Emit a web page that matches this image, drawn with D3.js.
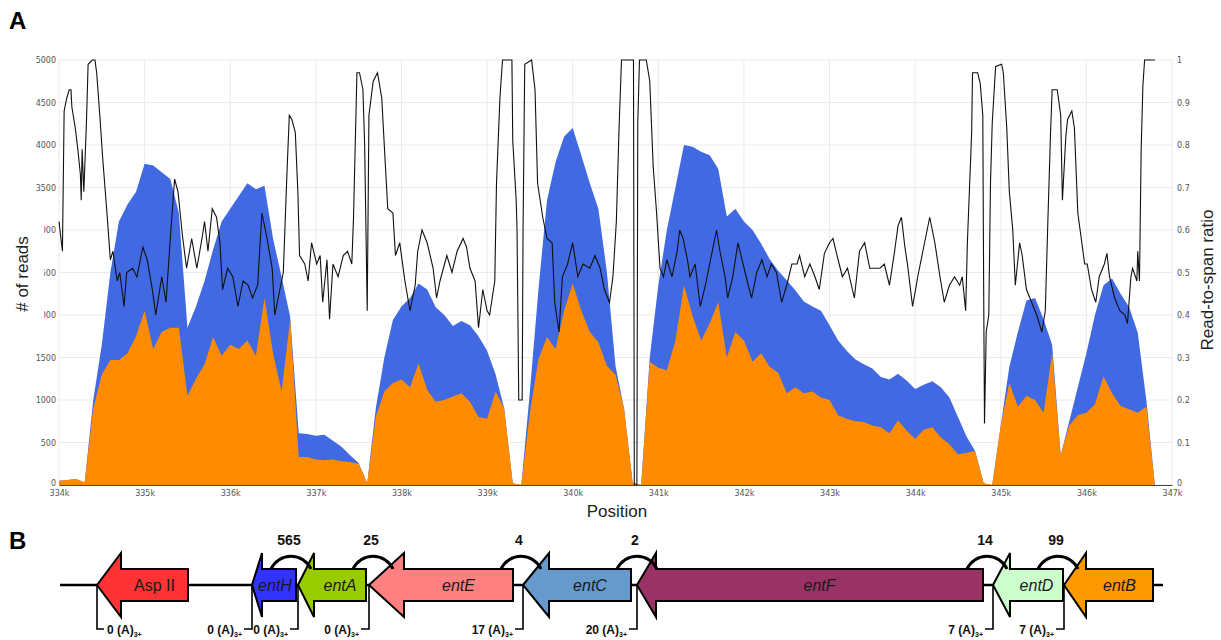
<!DOCTYPE html>
<html>
<head>
<meta charset="UTF-8">
<script src="https://cdn.jsdelivr.net/npm/d3@7"></script>
<style>
  body { margin: 0; background: #fff; font-family: "Liberation Sans", Arial, sans-serif; }
  .tick text { font-family: "DejaVu Sans", sans-serif; font-size: 8px; fill: #555; }
</style>
</head>
<body>
<svg width="1221" height="640"></svg>
<script>
// ---- panel A data: read coverage every 100 bp from 334k to 347k
const covStart = 334000, covStep = 100;
const totalReads = [50,60,70,30,1000,1650,2500,3100,3300,3450,
  3780,3760,3680,3600,3200,1850,2100,2400,2770,3100,
  3250,3400,3550,3480,3520,2900,2450,1980,610,600,
  580,590,520,450,350,260,20,900,1500,1940,
  2100,2200,2370,2300,2090,2000,1870,1930,1880,1750,
  1580,1300,900,20,0,1100,2300,3350,3800,4100,
  4200,3880,3550,3250,2500,1400,900,30,0,1500,
  2350,3000,3500,4000,3980,3920,3880,3720,3160,3250,
  3100,3000,2840,2660,2520,2410,2290,2160,2100,2050,
  1880,1700,1580,1480,1420,1370,1270,1240,1310,1230,
  1130,1180,1220,1150,1030,800,570,400,20,0,
  700,1390,1800,2170,2200,1950,1650,350,750,1150,
  1550,2000,2350,2430,2250,2090,1790,1000,0,0,0];
const spanReads = [50,60,70,30,900,1300,1470,1470,1550,1750,
  2050,1600,1800,1850,1850,1050,1250,1420,1740,1520,
  1650,1600,1700,1520,2200,1550,1100,1950,330,330,
  300,290,300,280,270,250,20,800,1100,1200,
  1240,1150,1430,1120,980,1000,1040,1080,980,800,
  780,1100,900,20,0,850,1480,1740,1600,2050,
  2370,2050,1800,1680,1400,1300,900,30,0,1450,
  1380,1350,1700,2350,1990,1700,1900,2150,1500,1800,
  1700,1450,1550,1390,1320,1080,1150,1080,1100,1030,
  1000,820,780,750,740,700,680,610,760,640,
  540,650,680,560,480,360,380,400,20,0,
  700,1200,920,1050,1000,850,1550,350,700,820,
  850,950,1280,1080,930,890,850,920,0,0,0];

// read-to-span ratio (right axis)
const ratioPos = [334000,334040,334060,334090,334120,334140,334150,334190,334220,334250,334260,334270,334290,334320,334340,334390,334420,334440,334480,334510,334560,334600,334630,334680,334710,334760,334790,334860,334910,334980,
  335030,335090,335130,335200,335250,335300,335350,335390,335440,335490,335550,335610,335670,335700,335740,335790,335840,335880,335910,335970,
  336030,336090,336150,336210,336260,336320,336370,336430,336490,336520,336580,336620,336660,336690,336720,336760,336790,336810,336870,336910,336950,
  337010,337050,337080,337130,337160,337200,337260,337320,337370,337420,337440,337480,337510,337550,337570,337600,337620,337670,337720,337770,337810,337840,337900,337930,337980,
  338040,338100,338160,338190,338240,338300,338370,338410,338450,338530,338590,338650,338720,338760,338800,338860,338900,338950,
  339000,339030,339090,339110,339150,339180,339290,339300,339340,339350,339370,339410,339420,339440,339520,339560,339590,339650,339700,339760,339790,339840,339880,339940,
  340000,340060,340120,340200,340260,340320,340370,340430,340470,340510,340540,340570,340710,340720,340750,340760,340780,340860,340900,340940,340980,
  341020,341060,341100,341160,341220,341250,341290,341340,341370,341430,341490,341550,341600,341680,341720,341780,341810,341870,341930,341990,
  342050,342090,342150,342210,342270,342320,342380,342440,342500,342560,342620,342650,342710,342770,342830,342880,342940,
  343000,343040,343100,343150,343210,343290,343350,343410,343470,343530,343590,343640,343700,343760,343800,343840,343880,343910,343970,
  344030,344090,344170,344230,344290,344340,344400,344460,344520,344550,344590,344610,344660,344670,344730,344760,344790,344800,344810,344830,344860,344880,344900,344940,
  345010,345030,345070,345100,345140,345170,345220,345250,345300,345360,345420,345480,345520,345550,345580,345600,345660,345700,345720,345760,345780,345830,345860,345900,345940,345980,
  346010,346060,346110,346150,346210,346240,346270,346330,346390,346450,346480,346520,346540,346590,346600,346620,346640,346660,346680,346800];
const ratioVal = [0.62,0.55,0.88,0.91,0.93,0.93,0.89,0.84,0.79,0.73,0.67,0.79,0.69,0.85,0.99,1,1,0.97,0.86,0.77,0.64,0.53,0.55,0.48,0.50,0.42,0.50,0.51,0.49,0.56,
  0.53,0.46,0.40,0.49,0.43,0.58,0.72,0.69,0.59,0.51,0.58,0.51,0.58,0.62,0.55,0.65,0.63,0.57,0.46,0.51,
  0.49,0.42,0.48,0.47,0.44,0.47,0.64,0.58,0.51,0.40,0.46,0.50,0.72,0.87,0.86,0.83,0.69,0.54,0.52,0.48,0.57,
  0.52,0.54,0.43,0.53,0.39,0.52,0.49,0.54,0.55,0.52,0.63,0.97,0.97,0.93,0.80,0.41,0.87,0.95,0.97,0.91,0.76,0.65,0.64,0.54,0.57,
  0.48,0.41,0.47,0.55,0.60,0.57,0.51,0.44,0.48,0.54,0.50,0.55,0.58,0.56,0.51,0.48,0.37,0.46,
  0.41,0.40,0.48,0.71,0.91,1,1,0.81,0.67,0.60,0.20,0.20,0.60,0.99,1,0.93,0.71,0.63,0.58,0.57,0.43,0.36,0.49,0.52,
  0.57,0.49,0.52,0.51,0.54,0.51,0.46,0.43,0.49,0.62,0.83,1,1,0,0,0.85,1,1,0.95,0.75,0.64,
  0.51,0.49,0.53,0.49,0.55,0.60,0.58,0.53,0.49,0.52,0.42,0.47,0.52,0.60,0.55,0.49,0.44,0.49,0.57,0.52,
  0.47,0.44,0.50,0.53,0.49,0.52,0.50,0.43,0.47,0.52,0.52,0.54,0.49,0.52,0.49,0.46,0.545,
  0.57,0.58,0.53,0.49,0.51,0.44,0.55,0.57,0.51,0.51,0.51,0.52,0.47,0.55,0.61,0.63,0.56,0.52,0.42,
  0.49,0.55,0.63,0.57,0.49,0.43,0.47,0.49,0.47,0.49,0.41,0.57,0.83,0.97,0.97,0.945,0.87,0.47,0.145,0.36,0.40,0.71,0.85,0.985,
  0.99,0.97,0.84,0.69,0.60,0.47,0.57,0.54,0.46,0.43,0.40,0.36,0.41,0.62,0.82,0.93,0.93,0.87,0.67,0.82,0.86,0.88,0.84,0.64,0.58,0.52,
  0.52,0.46,0.43,0.49,0.52,0.545,0.49,0.44,0.41,0.40,0.38,0.49,0.51,0.48,0.55,0.48,0.79,0.94,1,1];

const xTicks = d3.range(334000, 347001, 1000);
const readTicks = d3.range(0, 5001, 500);
const ratioTicks = d3.range(0, 11).map(i => i / 10);

// ---- panel B data: schematic gene map (units along the drawn locus)
const genes = ['Asp II', 'entH', 'entA', 'entE', 'entC', 'entF', 'entD', 'entB'];
const geneTip = [37, 192, 238, 309, 463, 577, 933, 1004];
const geneEnd = [128, 236, 306, 453, 571, 923, 1003, 1093];
const geneHead = [24, 10, 16, 35, 26, 19, 17, 22];
const geneColor = ['#ff3333', '#3333ff', '#99cc00', '#ff8080', '#6699cc', '#993366', '#ccffcc', '#ff9900'];
const overlapLabel = ['565', '25', '4', '2', '14', '99'];
const overlapAt = [231, 313, 461, 577, 927, 998];
const polyA = [0, 0, 0, 0, 17, 20, 7, 7];
const locusLength = 1103;

const svg = d3.select('svg');

const x = d3.scaleLinear().domain([334000, 347000]).range([59, 1172]);
const yReads = d3.scaleLinear().domain([0, 5000]).range([485, 60]);
const yRatio = d3.scaleLinear().domain([0, 1]).range([485, 60]);

const cov = totalReads.map((v, i) => ({ pos: covStart + i * covStep, total: v, span: spanReads[i] }));
const ratio = ratioPos.map((p, i) => ({ pos: p, r: ratioVal[i] }));

// gridlines
svg.append('g').selectAll('line').data(xTicks).enter().append('line')
  .attr('x1', d => x(d)).attr('x2', d => x(d))
  .attr('y1', yReads(5000)).attr('y2', yReads(0))
  .attr('stroke', '#ebebeb').attr('stroke-width', 1);
svg.append('g').selectAll('line').data(readTicks).enter().append('line')
  .attr('x1', x(334000)).attr('x2', x(347000))
  .attr('y1', d => yReads(d)).attr('y2', d => yReads(d))
  .attr('stroke', '#ebebeb').attr('stroke-width', 1);

// coverage areas
const areaTotal = d3.area().x(d => x(d.pos)).y0(yReads(0)).y1(d => yReads(d.total));
const areaSpan = d3.area().x(d => x(d.pos)).y0(yReads(0)).y1(d => yReads(d.span));
svg.append('path').datum(cov).attr('d', areaTotal).attr('fill', '#4169e1');
svg.append('path').datum(cov).attr('d', areaSpan).attr('fill', '#ff8c00');

// ratio line
const ratioLine = d3.line().x(d => x(d.pos)).y(d => yRatio(d.r));
svg.append('path').datum(ratio).attr('d', ratioLine)
  .attr('fill', 'none').attr('stroke', '#111').attr('stroke-width', 1.1);

// axes
const gx = svg.append('g').attr('transform', `translate(0,${yReads(0)})`)
  .call(d3.axisBottom(x).tickValues(xTicks).tickFormat(d => d / 1000 + 'k').tickSize(0).tickPadding(5));
gx.select('.domain').attr('stroke', '#444').attr('stroke-width', 1.2);

const gyl = svg.append('g').attr('transform', `translate(${x(334000)},0)`)
  .call(d3.axisLeft(yReads).tickValues(readTicks).tickFormat(d3.format('d')).tickSize(0).tickPadding(3));
gyl.select('.domain').remove();
gyl.selectAll('.tick text').filter(d => d === 0).attr('dy', '0.1em');

const gyr = svg.append('g').attr('transform', `translate(${x(347000)},0)`)
  .call(d3.axisRight(yRatio).tickValues(ratioTicks).tickFormat(d3.format('~g')).tickSize(0).tickPadding(5));
gyr.select('.domain').remove();
gyr.selectAll('.tick text').filter(d => d === 0).attr('dy', '0.1em');

// axis titles
svg.append('rect').attr('x', 8).attr('y', 222).attr('width', 36).attr('height', 100).attr('fill', '#fff');
svg.append('text').attr('transform', 'translate(28,274) rotate(-90)')
  .attr('text-anchor', 'middle').attr('font-size', 17).attr('fill', '#222').text('# of reads');
svg.append('text').attr('transform', 'translate(1213,280) rotate(-90)')
  .attr('text-anchor', 'middle').attr('font-size', 17).attr('fill', '#222').text('Read-to-span ratio');
svg.append('text').attr('x', 617).attr('y', 517)
  .attr('text-anchor', 'middle').attr('font-size', 17).attr('fill', '#222').text('Position');

// panel letters
svg.append('text').attr('x', 9).attr('y', 29).attr('font-size', 24).attr('font-weight', 'bold').text('A');
svg.append('text').attr('x', 9).attr('y', 549).attr('font-size', 24).attr('font-weight', 'bold').text('B');

// ---- panel B
const bx = d3.scaleLinear().domain([0, locusLength]).range([60, 1163]);
const yMid = 585, headHalf = 32, bodyHalf = 16;

svg.append('line').attr('x1', bx(0)).attr('x2', bx(locusLength))
  .attr('y1', yMid).attr('y2', yMid).attr('stroke', '#000').attr('stroke-width', 2.5);

// poly-A brackets at each gene's 3' end
const br = svg.append('g');
genes.forEach((g, i) => {
  const tx = bx(geneTip[i]);
  const right = i === 0;
  br.append('path')
    .attr('d', `M${tx},${yMid} V629 H${right ? tx + 7 : tx - 8}`)
    .attr('fill', 'none').attr('stroke', '#000').attr('stroke-width', 1.6);
  const t = br.append('text')
    .attr('x', right ? tx + 10 : tx - 10).attr('y', 634)
    .attr('text-anchor', right ? 'start' : 'end')
    .attr('font-size', 12).attr('font-weight', 'bold').attr('fill', '#111');
  t.append('tspan').text(polyA[i] + ' (A)');
  t.append('tspan').attr('font-size', 7).attr('dy', 3).text('3+');
});

// gene arrows
const ga = svg.append('g');
genes.forEach((g, i) => {
  const tip = bx(geneTip[i]), hb = bx(geneTip[i] + geneHead[i]), end = bx(geneEnd[i]);
  const pts = [[tip, yMid], [hb, yMid - headHalf], [hb, yMid - bodyHalf], [end, yMid - bodyHalf],
    [end, yMid + bodyHalf], [hb, yMid + bodyHalf], [hb, yMid + headHalf]];
  ga.append('polygon').attr('points', pts.map(p => p.join(',')).join(' '))
    .attr('fill', geneColor[i]).attr('stroke', '#000').attr('stroke-width', 2);
  ga.append('text').attr('x', (hb + end) / 2 - (i === 1 ? 4 : 0)).attr('y', yMid + 6)
    .attr('text-anchor', 'middle').attr('font-size', 16)
    .attr('font-style', i === 0 ? 'normal' : 'italic').attr('fill', '#1a1a1a').text(g);
});

// overlap arcs with distances
overlapLabel.forEach((lab, i) => {
  const cx = bx(overlapAt[i]);
  svg.append('path')
    .attr('d', `M${cx - 20},${yMid - bodyHalf} A22,22 0 0 1 ${cx + 20},${yMid - bodyHalf}`)
    .attr('fill', 'none').attr('stroke', '#000').attr('stroke-width', 3);
  svg.append('text').attr('x', cx - 2).attr('y', 545).attr('text-anchor', 'middle')
    .attr('font-size', 14).attr('font-weight', 'bold').attr('fill', '#111').text(lab);
});
</script>
</body>
</html>
